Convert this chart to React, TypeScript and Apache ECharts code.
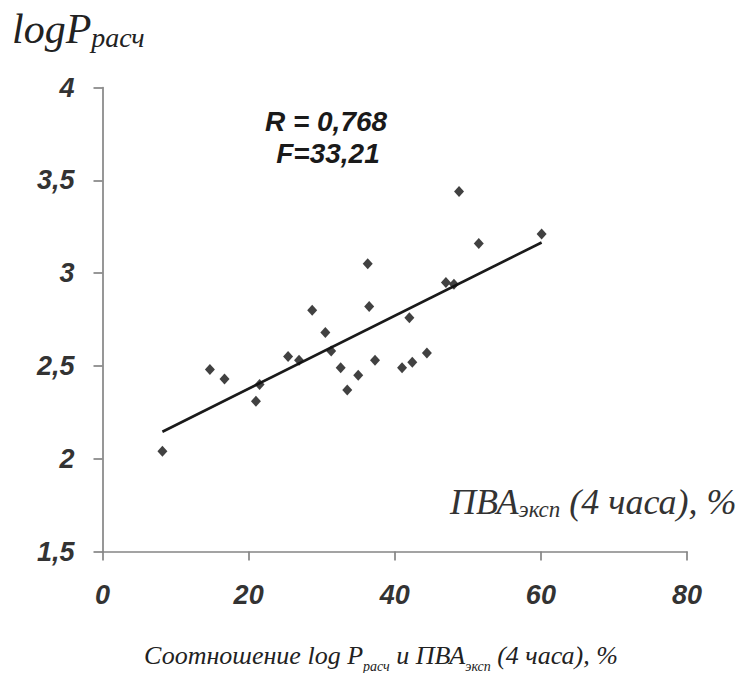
import React, { useEffect, useRef } from "react";
import * as echarts from "echarts";

const pvaExp: number[] = [8.2, 14.7, 16.7, 21.0, 21.5, 25.4, 26.9, 28.7, 30.5, 31.3, 32.6, 33.5, 35.0, 36.3, 36.5, 37.3, 41.0, 42.0, 42.4, 44.4, 47.0, 48.1, 48.8, 51.5, 60.1];
const logPCalc: number[] = [2.04, 2.48, 2.43, 2.31, 2.40, 2.55, 2.53, 2.80, 2.68, 2.58, 2.49, 2.37, 2.45, 3.05, 2.82, 2.53, 2.49, 2.76, 2.52, 2.57, 2.95, 2.94, 3.44, 3.16, 3.21];
const trendX: number[] = [8.2, 60.1];
const trendY: number[] = [2.145, 3.165];
const xTicks = { min: 0, max: 80, interval: 20 };
const yTicks = { min: 1.5, max: 4, interval: 0.5 };

const serif = "'Liberation Serif', 'Times New Roman', serif";
const sans = "'Liberation Sans', Arial, sans-serif";

export default function App() {
  const ref = useRef<HTMLDivElement>(null);
  useEffect(() => {
    if (!ref.current) return;
    const chart = echarts.init(ref.current, null, { renderer: "svg" });
    const axisColor = "#858585";
    const labelStyle = {
      fontSize: 27,
      fontStyle: "italic" as const,
      fontWeight: "bold" as const,
      color: "#333333",
      fontFamily: sans,
    };
    chart.setOption({
      animation: false,
      backgroundColor: "#ffffff",
      grid: { left: 102.5, top: 87.5, width: 584.5, height: 464 },
      xAxis: {
        type: "value",
        min: xTicks.min,
        max: xTicks.max,
        interval: xTicks.interval,
        axisLine: { show: true, onZero: false, lineStyle: { color: axisColor, width: 1.7 } },
        axisTick: { show: true, length: 9, lineStyle: { color: axisColor, width: 1.7 } },
        axisLabel: { ...labelStyle, margin: 30 },
        splitLine: { show: false },
      },
      yAxis: {
        type: "value",
        min: yTicks.min,
        max: yTicks.max,
        interval: yTicks.interval,
        axisLine: { show: true, onZero: false, lineStyle: { color: axisColor, width: 1.7 } },
        axisTick: { show: true, length: 9, lineStyle: { color: axisColor, width: 1.7 } },
        axisLabel: {
          ...labelStyle,
          margin: 28,
          formatter: (v: number) => String(v).replace(".", ","),
        },
        splitLine: { show: false },
      },
      series: [
        {
          type: "line",
          data: trendX.map((x, i) => [x, trendY[i]]),
          symbol: "none",
          lineStyle: { color: "#1a1a1a", width: 2.6 },
          z: 2,
        },
        {
          type: "scatter",
          data: pvaExp.map((x, i) => [x, logPCalc[i]]),
          symbol: "diamond",
          symbolSize: [10, 11],
          itemStyle: { color: "#111111" },
          z: 3,
        },
      ],
      graphic: [
        {
          type: "text",
          left: 12,
          top: 8,
          style: {
            text: "{a|logP}{b|расч}",
            rich: {
              a: { fontFamily: serif, fontStyle: "italic", fontSize: 42, fill: "#222", verticalAlign: "middle" },
              b: { fontFamily: serif, fontStyle: "italic", fontSize: 28, fill: "#222", verticalAlign: "middle", padding: [16, 0, 0, 0] },
            },
          },
        },
        {
          type: "text",
          x: 326,
          y: 121,
          style: {
            text: "R = 0,768",
            fontFamily: sans,
            fontStyle: "italic",
            fontWeight: "bold",
            fontSize: 28,
            fill: "#1a1a1a",
            align: "center",
            verticalAlign: "middle",
          },
        },
        {
          type: "text",
          x: 328,
          y: 153,
          style: {
            text: "F=33,21",
            fontFamily: sans,
            fontStyle: "italic",
            fontWeight: "bold",
            fontSize: 28,
            fill: "#1a1a1a",
            align: "center",
            verticalAlign: "middle",
          },
        },
        {
          type: "text",
          x: 450,
          y: 502,
          style: {
            text: "{a|ПВА}{b|эксп}{a| (4 часа), %}",
            align: "left",
            verticalAlign: "middle",
            rich: {
              a: { fontFamily: serif, fontStyle: "italic", fontSize: 36, fill: "#333", verticalAlign: "middle" },
              b: { fontFamily: serif, fontStyle: "italic", fontSize: 23, fill: "#333", verticalAlign: "middle", padding: [14, 0, 0, 0] },
            },
          },
        },
        {
          type: "text",
          x: 381,
          y: 655,
          style: {
            text: "{a|Соотношение log P}{b|расч}{a| и ПВА}{b|эксп}{a| (4 часа), %}",
            align: "center",
            verticalAlign: "middle",
            rich: {
              a: { fontFamily: serif, fontStyle: "italic", fontSize: 26, fill: "#222", verticalAlign: "middle" },
              b: { fontFamily: serif, fontStyle: "italic", fontSize: 14, fill: "#222", verticalAlign: "middle", padding: [22, 0, 0, 0] },
            },
          },
        },
      ],
    });
    return () => chart.dispose();
  }, []);
  return (
    <div
      ref={ref}
      style={{ position: "absolute", left: 0, top: 0, width: 747, height: 673 }}
    />
  );
}
